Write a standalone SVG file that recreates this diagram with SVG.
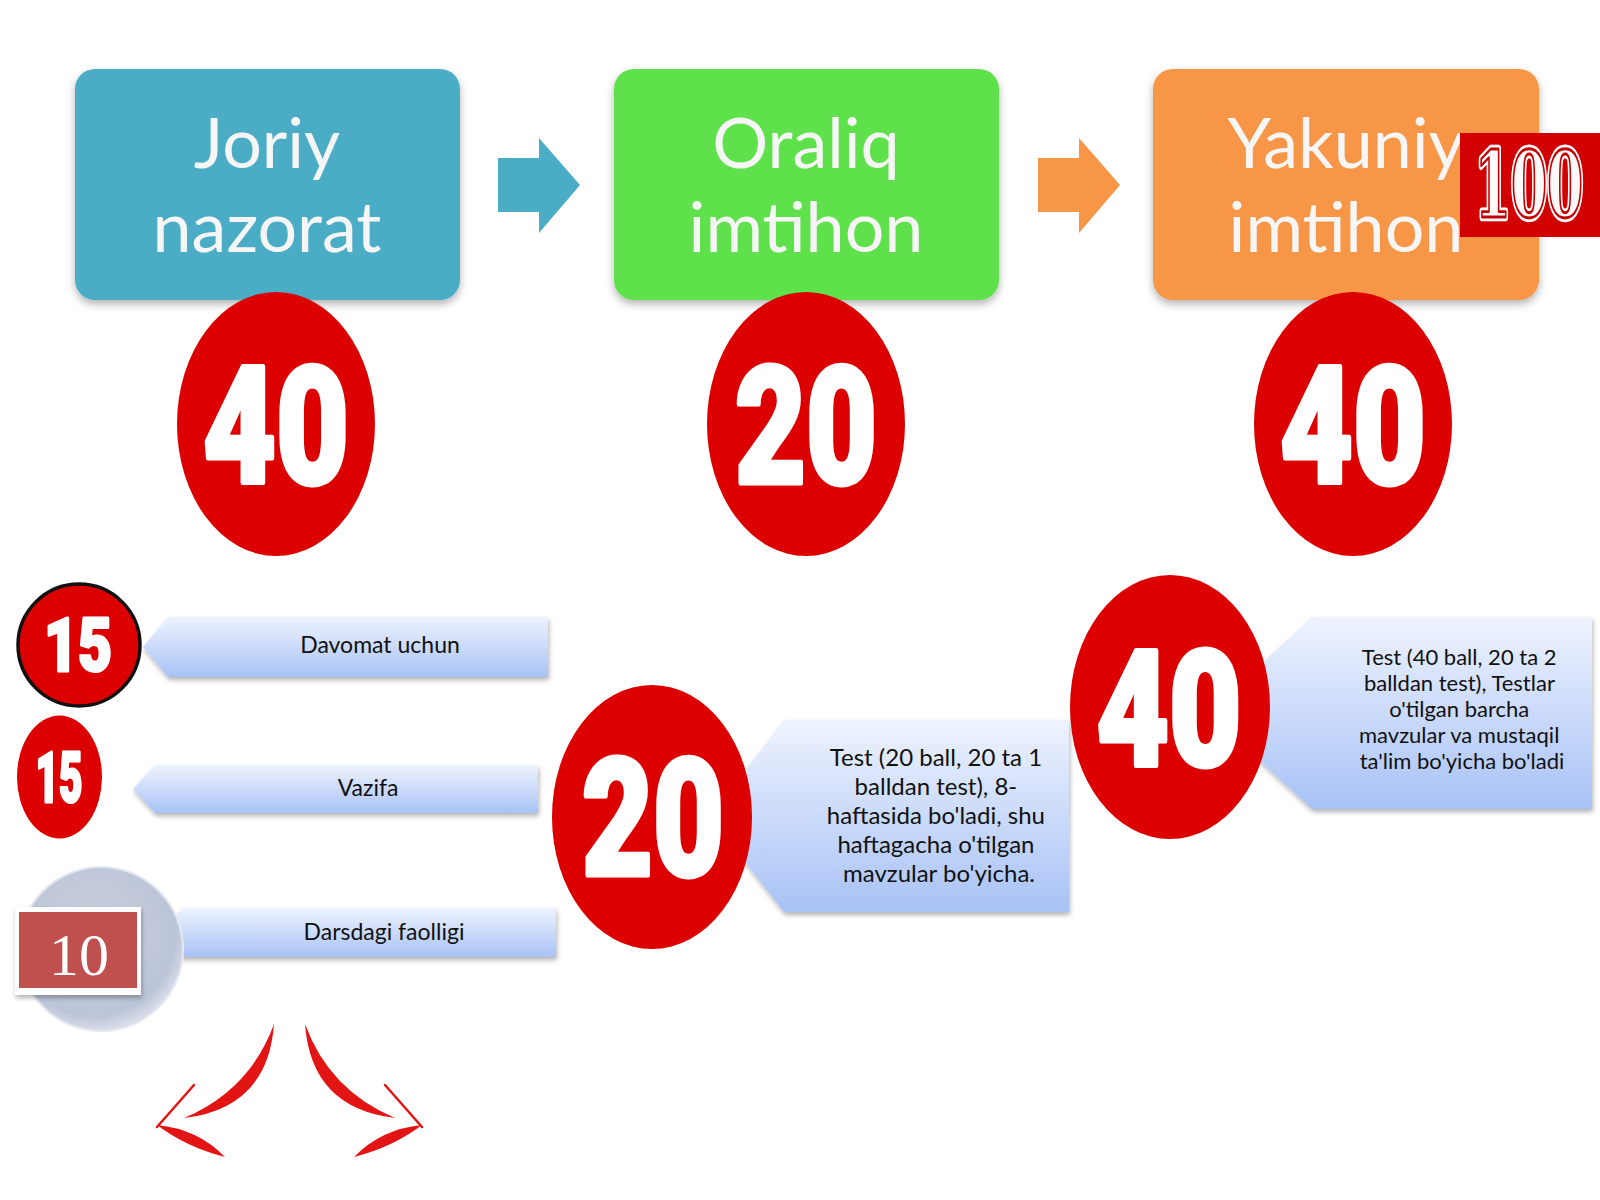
<svg xmlns="http://www.w3.org/2000/svg" width="1600" height="1200" viewBox="0 0 1600 1200">
<defs>
  <filter id="sh" x="-10%" y="-10%" width="120%" height="130%">
    <feDropShadow dx="0" dy="4" stdDeviation="4" flood-color="#000" flood-opacity="0.3"/>
  </filter>
  <filter id="sh2" x="-10%" y="-20%" width="120%" height="150%">
    <feDropShadow dx="1" dy="3" stdDeviation="2.5" flood-color="#000" flood-opacity="0.3"/>
  </filter>
  <linearGradient id="callout" x1="0" y1="0" x2="0" y2="1">
    <stop offset="0" stop-color="#eef3fe"/>
    <stop offset="1" stop-color="#a8c2f5"/>
  </linearGradient>
  <radialGradient id="grayc" cx="0.45" cy="0.4" r="0.6">
    <stop offset="0" stop-color="#c9d0df"/>
    <stop offset="0.85" stop-color="#bcc5d8"/>
    <stop offset="1" stop-color="#d8dde8"/>
  </radialGradient>
  <style>
    .box-label { font-family: Lato, "Liberation Sans", sans-serif; font-size: 70px; fill: #f6f6f6; text-anchor: middle; }
    .big { font-family: Roboto, "Liberation Sans", sans-serif; font-weight: 900; fill: #ffffff; stroke: #ffffff; stroke-linejoin: round; text-anchor: middle; }
    .redc { fill: #dc0000; }
    .lbl { font-family: Lato, "Liberation Sans", sans-serif; font-size: 23px; fill: #111111; text-anchor: middle; }
    .call { font-family: Lato, "Liberation Sans", sans-serif; fill: #111111; text-anchor: middle; }
    .bar { fill: url(#callout); filter: url(#sh2); }
    .curve { fill: #e31414; }
    .hundred { font-family: "DejaVu Serif", "Liberation Serif", serif; font-weight: 700; font-size: 100px; text-anchor: middle; stroke-linejoin: round; }
  </style>
</defs>
<rect width="1600" height="1200" fill="#ffffff"/>

<g id="connectors">
  <polygon points="498,158 539,158 539,138 580,185 539,233 539,212 498,212" fill="#4bacc6"/>
  <polygon points="1038,158 1079,158 1079,138 1120,185 1079,233 1079,212 1038,212" fill="#f79646"/>
  <g id="split-arrows">
    <path class="curve" d="M274,1024 Q268,1108 184,1118 Q250,1090 274,1024 Z"/>
    <line x1="194" y1="1085" x2="157" y2="1127" stroke="#e31414" stroke-width="2.5" stroke-linecap="round"/>
    <path class="curve" d="M157,1125 Q198,1129 225,1157 Q186,1147 157,1125 Z"/>
    <path class="curve" d="M305,1024 Q311,1108 395,1118 Q329,1090 305,1024 Z"/>
    <line x1="385" y1="1085" x2="422" y2="1127" stroke="#e31414" stroke-width="2.5" stroke-linecap="round"/>
    <path class="curve" d="M422,1125 Q381,1129 354,1157 Q393,1147 422,1125 Z"/>
  </g>
</g>

<g id="joriy">
  <rect x="75" y="69" width="385" height="231" rx="20" fill="#4bacc6" filter="url(#sh)"/>
  <text class="box-label" x="267" y="168">Joriy</text>
  <text class="box-label" x="267" y="252">nazorat</text>
</g>
<g id="oraliq">
  <rect x="614" y="69" width="385" height="231" rx="20" fill="#5fe14b" filter="url(#sh)"/>
  <text class="box-label" x="806" y="168">Oraliq</text>
  <text class="box-label" x="806" y="252">imtihon</text>
</g>
<g id="yakuniy">
  <rect x="1153" y="69" width="386" height="231" rx="20" fill="#f79646" filter="url(#sh)"/>
  <text class="box-label" x="1346" y="168">Yakuniy</text>
  <text class="box-label" x="1346" y="252">imtihon</text>
</g>
<g id="total-100">
  <rect x="1460" y="133" width="140" height="104" fill="#d20000"/>
  <g transform="translate(1529,217) scale(0.52,0.92)">
    <text class="hundred" x="0" y="0" fill="#ffffff" stroke="#ffffff" stroke-width="9">100</text>
    <text class="hundred" x="0" y="0" fill="#fafafa" stroke="#c40000" stroke-width="3">100</text>
  </g>
</g>

<g id="score-40-joriy">
  <ellipse class="redc" cx="276" cy="424" rx="99" ry="132"/>
  <text class="big" x="276" y="483" font-size="164" stroke-width="5" textLength="146" lengthAdjust="spacingAndGlyphs">40</text>
</g>
<g id="score-20-oraliq">
  <ellipse class="redc" cx="806" cy="424" rx="99" ry="132"/>
  <text class="big" x="806" y="483" font-size="164" stroke-width="5" textLength="142" lengthAdjust="spacingAndGlyphs">20</text>
</g>
<g id="score-40-yakuniy">
  <ellipse class="redc" cx="1353" cy="424" rx="99" ry="132"/>
  <text class="big" x="1353" y="483" font-size="164" stroke-width="5" textLength="146" lengthAdjust="spacingAndGlyphs">40</text>
</g>

<g id="davomat">
  <polygon class="bar" points="143,647 168,617 548,617 548,677 168,677"/>
  <text class="lbl" x="380" y="653">Davomat uchun</text>
</g>
<g id="vazifa">
  <polygon class="bar" points="133,789 155,765 538,765 538,813 155,813"/>
  <text class="lbl" x="368" y="796">Vazifa</text>
</g>
<g id="darsdagi">
  <polygon class="bar" points="160,933 182,908 556,908 556,957 182,957"/>
  <text class="lbl" x="384" y="940">Darsdagi faolligi</text>
</g>

<g id="score-15-davomat">
  <circle cx="79" cy="645" r="61" fill="#dc0000" stroke="#111111" stroke-width="3.5"/>
  <text class="big" x="78" y="671" font-size="74" stroke-width="3" textLength="68" lengthAdjust="spacingAndGlyphs">15</text>
</g>
<g id="score-15-vazifa">
  <ellipse class="redc" cx="59.5" cy="777" rx="42.5" ry="61.5"/>
  <text class="big" x="59" y="802" font-size="71" stroke-width="3" textLength="47" lengthAdjust="spacingAndGlyphs">15</text>
</g>
<g id="score-10-darsdagi">
  <circle cx="101" cy="949" r="82" fill="url(#grayc)" stroke="#e4e8f0" stroke-width="2"/>
  <rect x="15" y="907" width="126" height="88" fill="#ffffff" filter="url(#sh2)"/>
  <rect x="19" y="912" width="118" height="76" fill="#c0504d"/>
  <text x="79" y="975" font-family="'Liberation Serif', serif" font-size="60" fill="#ffffff" text-anchor="middle">10</text>
</g>

<g id="oraliq-detail">
  <polygon class="bar" points="710,817 784,720 1069,720 1069,912 784,912"/>
  <text class="call" font-size="24">
    <tspan x="939" y="766">Test (20 ball, 20 ta 1</tspan>
    <tspan x="939" y="795">balldan test), 8-</tspan>
    <tspan x="939" y="824">haftasida bo'ladi, shu</tspan>
    <tspan x="939" y="853">haftagacha o'tilgan</tspan>
    <tspan x="939" y="882">mavzular bo'yicha.</tspan>
  </text>
  <ellipse class="redc" cx="652" cy="817" rx="100" ry="132"/>
  <text class="big" x="653" y="875" font-size="164" stroke-width="5" textLength="142" lengthAdjust="spacingAndGlyphs">20</text>
</g>

<g id="yakuniy-detail">
  <polygon class="bar" points="1208,713 1312,617 1592,617 1592,809 1312,809"/>
  <text class="call" font-size="22">
    <tspan x="1462" y="665">Test (40 ball, 20 ta 2</tspan>
    <tspan x="1462" y="691">balldan test), Testlar</tspan>
    <tspan x="1462" y="717">o'tilgan barcha</tspan>
    <tspan x="1462" y="743">mavzular va mustaqil</tspan>
    <tspan x="1462" y="769">ta'lim bo'yicha bo'ladi</tspan>
  </text>
  <ellipse class="redc" cx="1170" cy="707" rx="100" ry="132"/>
  <text class="big" x="1169" y="765" font-size="162" stroke-width="5" textLength="145" lengthAdjust="spacingAndGlyphs">40</text>
</g>
</svg>
